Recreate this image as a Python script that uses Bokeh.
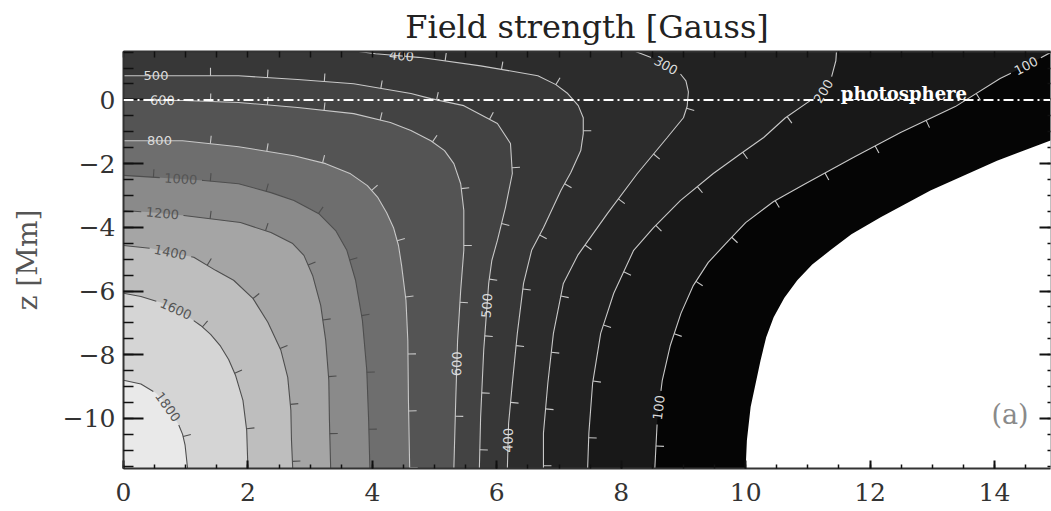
import numpy as np
from bokeh.plotting import figure
from bokeh.models import (Range1d, LinearAxis, FixedTicker, CustomJSTickFormatter,
                          Label, Span, ColumnDataSource, Title)
from bokeh.core.properties import value
from bokeh.embed import file_html
from bokeh.resources import INLINE

# ---- plot window (x: radius [Mm], z: height [Mm]) ----
X_MIN, X_MAX = 0.0, 14.9
Z_MIN, Z_MAX = -11.57, 1.52
BORDER_L, BORDER_R, BORDER_T, BORDER_B = 123, 1, 51, 43
WIDTH, HEIGHT = 1051, 511
FRAME_W = WIDTH - BORDER_L - BORDER_R
FRAME_H = HEIGHT - BORDER_T - BORDER_B
KX = FRAME_W / (X_MAX - X_MIN)   # px per Mm, horizontal
KZ = FRAME_H / (Z_MAX - Z_MIN)   # px per Mm, vertical

# ---- iso-field lines [G]: (x, z) vertices, from the upper end down to the bottom ----
c100_x = [14.93, 14.50, 14.09, 13.37, 12.49, 11.73, 10.93, 10.45, 10.00, 9.68, 9.40, 9.16, 8.96, 8.79, 8.66, 8.58, 8.54]
c100_z = [1.52, 1.06, 0.67, -0.21, -1.02, -1.81, -2.66, -3.19, -3.85, -4.51, -5.10, -5.82, -6.70, -7.70, -8.80, -10.05, -11.57]

c200_x = [11.46, 11.45, 11.38, 11.23, 11.04, 10.64, 10.29, 9.92, 9.48, 8.95, 8.52, 8.20, 7.88, 7.67, 7.54, 7.48, 7.46]
c200_z = [1.52, 1.23, 0.72, 0.20, -0.02, -0.56, -1.18, -1.69, -2.31, -3.16, -4.01, -4.72, -6.07, -7.33, -8.90, -10.46, -11.57]

c300_x = [8.23, 8.47, 8.72, 8.95, 9.04, 9.08, 9.06, 9.00, 8.74, 8.26, 7.78, 7.30, 7.07, 6.91, 6.82, 6.75, 6.75]
c300_z = [1.52, 1.34, 1.08, 0.82, 0.60, 0.25, -0.20, -0.56, -1.18, -2.31, -3.56, -4.88, -5.76, -7.33, -8.90, -10.46, -11.57]

c400_x = [3.78, 4.05, 4.78, 5.74, 6.66, 6.95, 7.14, 7.31, 7.39, 7.39, 7.35, 7.19, 7.03, 6.75, 6.56, 6.43, 6.33, 6.25, 6.19, 6.17]
c400_z = [1.52, 1.45, 1.33, 1.07, 0.76, 0.48, 0.20, -0.18, -0.56, -1.06, -1.59, -2.28, -2.84, -4.01, -4.72, -5.76, -7.33, -8.90, -10.15, -11.57]

c500_x = [0.00, 1.85, 2.80, 3.70, 4.62, 4.94, 5.47, 6.01, 6.22, 6.25, 6.14, 6.01, 5.92, 5.87, 5.79, 5.74, 5.72]
c500_z = [0.76, 0.76, 0.64, 0.51, 0.20, 0.04, -0.18, -0.74, -1.37, -2.31, -3.37, -4.41, -5.04, -5.76, -7.85, -9.96, -11.57]

c600_x = [0.00, 0.97, 1.85, 2.80, 3.70, 4.29, 4.62, 4.94, 5.16, 5.31, 5.42, 5.47, 5.47, 5.42, 5.37, 5.34, 5.31]
c600_z = [0.00, -0.02, -0.08, -0.24, -0.43, -0.71, -0.96, -1.28, -1.59, -2.00, -2.63, -3.47, -4.72, -5.97, -7.55, -9.43, -11.57]

c800_x = [0.00, 0.95, 1.85, 2.74, 3.25, 3.65, 3.92, 4.09, 4.23, 4.34, 4.42, 4.47, 4.54, 4.57, 4.58, 4.60]
c800_z = [-1.28, -1.28, -1.47, -1.75, -2.00, -2.32, -2.69, -3.07, -3.54, -4.01, -4.57, -5.20, -6.29, -7.55, -9.43, -11.57]

c1000_x = [0.00, 0.60, 1.29, 1.85, 2.37, 2.74, 3.14, 3.41, 3.59, 3.73, 3.84, 3.91, 3.94, 3.96]
c1000_z = [-2.37, -2.44, -2.53, -2.63, -2.91, -3.16, -3.57, -4.10, -4.72, -5.66, -6.92, -8.48, -10.05, -11.57]

c1200_x = [0.00, 0.44, 0.97, 1.88, 2.37, 2.72, 2.90, 3.04, 3.17, 3.25, 3.30, 3.31, 3.33]
c1200_z = [-3.47, -3.53, -3.63, -3.85, -4.16, -4.51, -4.88, -5.51, -6.45, -7.55, -8.80, -10.05, -11.57]

c1400_x = [0.00, 0.44, 1.13, 1.48, 1.77, 2.08, 2.32, 2.53, 2.64, 2.69, 2.70, 2.72]
c1400_z = [-4.57, -4.66, -4.94, -5.35, -5.66, -6.23, -6.98, -7.86, -8.71, -9.74, -10.68, -11.57]

c1600_x = [0.00, 0.28, 0.60, 0.92, 1.24, 1.40, 1.56, 1.69, 1.80, 1.92, 1.98, 2.00]
c1600_z = [-6.07, -6.17, -6.36, -6.64, -7.08, -7.36, -7.73, -8.15, -8.64, -9.43, -10.37, -11.57]

c1800_x = [0.00, 0.28, 0.52, 0.63, 0.73, 0.89, 0.95, 0.99, 1.03]
c1800_z = [-8.80, -8.92, -9.20, -9.42, -9.68, -10.21, -10.50, -10.84, -11.57]

# edge of the magnetised tube (field-free gas outside)
edge_x = [15.00, 14.89, 14.04, 12.97, 12.17, 11.70, 11.36, 11.07, 10.83, 10.62, 10.45, 10.33, 10.24, 10.08, 10.02, 10.00]
edge_z = [-1.18, -1.28, -1.91, -2.84, -3.68, -4.22, -4.72, -5.17, -5.66, -6.22, -6.82, -7.45, -8.17, -9.64, -10.68, -11.57]

levels = [100, 200, 300, 400, 500, 600, 800, 1000, 1200, 1400, 1600, 1800]
paths = {100: (c100_x, c100_z), 200: (c200_x, c200_z), 300: (c300_x, c300_z),
         400: (c400_x, c400_z), 500: (c500_x, c500_z), 600: (c600_x, c600_z),
         800: (c800_x, c800_z), 1000: (c1000_x, c1000_z), 1200: (c1200_x, c1200_z),
         1400: (c1400_x, c1400_z), 1600: (c1600_x, c1600_z), 1800: (c1800_x, c1800_z)}

# grey of the area at or above each level
band_grey = ["#181818", "#222222", "#2c2c2c", "#373737", "#434343", "#545454",
             "#6e6e6e", "#8a8a8a", "#a5a5a5", "#bebebe", "#d5d5d5", "#e9e9e9"]

# contour labels: level, approximate position
lab_level = [500, 600, 800, 1000, 1200, 1400, 1600, 1800, 400, 400, 500, 600, 300, 200, 100, 100]
lab_x = [0.52, 0.63, 0.58, 0.92, 0.63, 0.76, 0.84, 0.71, 4.47, 6.19, 5.85, 5.36, 8.72, 11.24, 14.50, 8.59]
lab_z = [0.76, 0.00, -1.28, -2.47, -3.54, -4.75, -6.57, -9.64, 1.39, -10.69, -6.46, -8.28, 1.08, 0.29, 1.08, -9.65]

x_major = [0, 2, 4, 6, 8, 10, 12, 14]
z_major = [-10, -8, -6, -4, -2, 0]

TICK_STEP, TICK_START, TICK_LEN = 57.0, 30.0, 8.0

p = figure(width=WIDTH, height=HEIGHT,
           x_range=Range1d(X_MIN, X_MAX), y_range=Range1d(Z_MIN, Z_MAX),
           output_backend="svg", toolbar_location=None, title=None,
           min_border_left=BORDER_L, min_border_right=BORDER_R,
           min_border_top=BORDER_T, min_border_bottom=BORDER_B)
p.background_fill_color = "#050505"
p.border_fill_color = "white"
p.outline_line_color = None
p.grid.visible = False

# ---- filled bands ----
poly_x, poly_z, poly_c = [], [], []
poly_x.append(list(edge_x) + [X_MAX + 1.0])
poly_z.append(list(edge_z) + [Z_MIN - 1.0])
poly_c.append("#ffffff")
for lev, grey in zip(levels, band_grey):
    xs, zs = paths[lev]
    px = list(xs) + [X_MIN - 1.0]
    pz = list(zs) + [Z_MIN - 1.0]
    if zs[0] >= Z_MAX - 1e-6:
        px.append(X_MIN - 1.0)
        pz.append(Z_MAX + 1.0)
    poly_x.append(px)
    poly_z.append(pz)
    poly_c.append(grey)
p.patches(xs=poly_x, ys=poly_z, fill_color=poly_c, line_color=None)


def arclen(xs, zs):
    sx = np.asarray(xs) * KX
    sz = np.asarray(zs) * KZ
    return np.concatenate([[0.0], np.cumsum(np.hypot(np.diff(sx), np.diff(sz)))])


def at(xs, zs, s_nodes, s):
    return np.interp(s, s_nodes, xs), np.interp(s, s_nodes, zs)


def tangent(xs, zs, s_nodes, s):
    x0, z0 = at(xs, zs, s_nodes, max(s - 3.0, 0.0))
    x1, z1 = at(xs, zs, s_nodes, min(s + 3.0, s_nodes[-1]))
    tx, tz = (x1 - x0) * KX, (z1 - z0) * KZ
    n = np.hypot(tx, tz)
    return tx / n, tz / n


lab_src = dict(x=[], y=[], text=[], angle=[], color=[])
tick_src = dict(x0=[], y0=[], x1=[], y1=[], color=[])

for lev in levels:
    xs, zs = paths[lev]
    s_nodes = arclen(xs, zs)
    total = s_nodes[-1]
    light = lev <= 800
    line_col = "#c8c8c8" if light else "#4e4e4e"
    text_col = "#dcdcdc" if light else "#555555"

    # label gaps along the line
    fine = np.arange(0.0, total, 0.5)
    fx, fz = at(xs, zs, s_nodes, fine)
    gaps = []
    for L, lx, lz in zip(lab_level, lab_x, lab_z):
        if L != lev:
            continue
        d = np.hypot((fx - lx) * KX, (fz - lz) * KZ)
        s0 = fine[int(np.argmin(d))]
        txt = str(L)
        half = len(txt) * 4.3 + 4.0
        gaps.append((s0 - half, s0 + half))
        cx, cz = at(xs, zs, s_nodes, s0)
        tx, tz = tangent(xs, zs, s_nodes, s0)
        ang = np.arctan2(tz, tx)
        if ang > np.pi / 2 + 1e-6:
            ang -= np.pi
        elif ang <= -np.pi / 2 + 1e-6:
            ang += np.pi
        lab_src["x"].append(float(cx))
        lab_src["y"].append(float(cz))
        lab_src["text"].append(txt)
        lab_src["angle"].append(float(ang))
        lab_src["color"].append(text_col)

    # the line itself, broken where a label sits
    cuts = np.array([g for gp in gaps for g in gp])
    s_all = np.union1d(s_nodes, cuts)
    s_all = s_all[(s_all >= 0) & (s_all <= total)]
    lx_, lz_ = at(xs, zs, s_nodes, s_all)
    mask = np.zeros(len(s_all), dtype=bool)
    for a, b in gaps:
        mask |= (s_all > a + 0.01) & (s_all < b - 0.01)
    lx_ = np.where(mask, np.nan, lx_)
    lz_ = np.where(mask, np.nan, lz_)
    p.line(lx_, lz_, line_color=line_col, line_width=1.1)

    # downhill ticks on the low-field side
    for s in np.arange(TICK_START, total, TICK_STEP):
        if any(a - 4 < s < b + 4 for a, b in gaps):
            continue
        cx, cz = at(xs, zs, s_nodes, s)
        tx, tz = tangent(xs, zs, s_nodes, s)
        nx, nz = -tz, tx
        tick_src["x0"].append(float(cx))
        tick_src["y0"].append(float(cz))
        tick_src["x1"].append(float(cx + nx * TICK_LEN / KX))
        tick_src["y1"].append(float(cz + nz * TICK_LEN / KZ))
        tick_src["color"].append(line_col)

p.segment(x0="x0", y0="y0", x1="x1", y1="y1", line_color="color", line_width=1.1,
          source=ColumnDataSource(tick_src))
p.text(x="x", y="y", text="text", angle="angle", text_color="color",
       source=ColumnDataSource(lab_src), text_font=value("DejaVu Sans"),
       text_font_size="13px", text_align="center", text_baseline="middle")

# photosphere level
p.add_layout(Span(location=0, dimension="width", line_color="white",
                  line_width=2, line_dash="10 4 2 4"))
p.add_layout(Label(x=11.53, y=0.20, text="photosphere", text_color="white",
                   text_font="DejaVu Serif", text_font_style="bold", text_font_size="18px",
                   text_baseline="alphabetic", text_align="left"))
p.add_layout(Label(x=14.25, y=-9.88, text="(a)", text_color="#8a8a8a",
                   text_font="DejaVu Serif", text_font_size="27px",
                   text_baseline="middle", text_align="center"))

# ---- axes ----
minus = CustomJSTickFormatter(code="return tick < 0 ? '\u2212' + (-tick) : '' + tick;")
blank = CustomJSTickFormatter(code="return '';")

xa = p.below[0]
xa.ticker = FixedTicker(ticks=x_major, minor_ticks=list(np.arange(0.0, 15.0, 0.5)))
xa.major_tick_in, xa.major_tick_out = 8, 0
xa.minor_tick_in, xa.minor_tick_out = 4, 0
xa.major_label_standoff = 14

ya = p.left[0]
ya.ticker = FixedTicker(ticks=z_major, minor_ticks=list(np.arange(-11.5, 1.6, 0.5)))
ya.formatter = minus
ya.major_tick_in, ya.major_tick_out = 20, 0
ya.minor_tick_in, ya.minor_tick_out = 10, 0
ya.major_label_standoff = 8
ya.axis_label = "z [Mm]"
ya.axis_label_standoff = 16
ya.axis_label_text_font = "DejaVu Serif"
ya.axis_label_text_font_style = "normal"
ya.axis_label_text_font_size = "28px"
ya.axis_label_text_color = "#555555"

for ax in (xa, ya):
    ax.major_label_text_font = "DejaVu Serif"
    ax.major_label_text_font_size = "25px"
    ax.major_label_text_color = "#333333"
    ax.axis_line_color = "#333333"
    ax.axis_line_width = 2
    ax.major_tick_line_color = "#111111"
    ax.major_tick_line_width = 2
    ax.minor_tick_line_color = "#111111"
    ax.minor_tick_line_width = 1.5

top = LinearAxis(ticker=FixedTicker(ticks=list(np.arange(0.0, 15.0, 0.5))), formatter=blank,
                 major_tick_in=6, major_tick_out=0, minor_tick_in=0, minor_tick_out=0,
                 major_label_standoff=0, major_label_text_font_size="1px",
                 axis_line_color="#333333", axis_line_width=2,
                 major_tick_line_color="#111111", major_tick_line_width=1.5)
p.add_layout(top, "above")

right = LinearAxis(ticker=FixedTicker(ticks=z_major, minor_ticks=list(np.arange(-11.5, 1.6, 0.5))),
                   formatter=blank, major_tick_in=11, major_tick_out=0,
                   minor_tick_in=3, minor_tick_out=0, major_label_standoff=0,
                   major_label_text_font_size="1px", axis_line_color=None,
                   major_tick_line_color="#111111", major_tick_line_width=2,
                   minor_tick_line_color="#111111", minor_tick_line_width=1.5)
p.add_layout(right, "right")

p.add_layout(Title(text="Field strength [Gauss]", align="center", text_color="#222222",
                   text_font="DejaVu Serif", text_font_style="normal",
                   text_font_size="32px", standoff=11), "above")

open("out.html", "w").write(file_html(p, INLINE))
